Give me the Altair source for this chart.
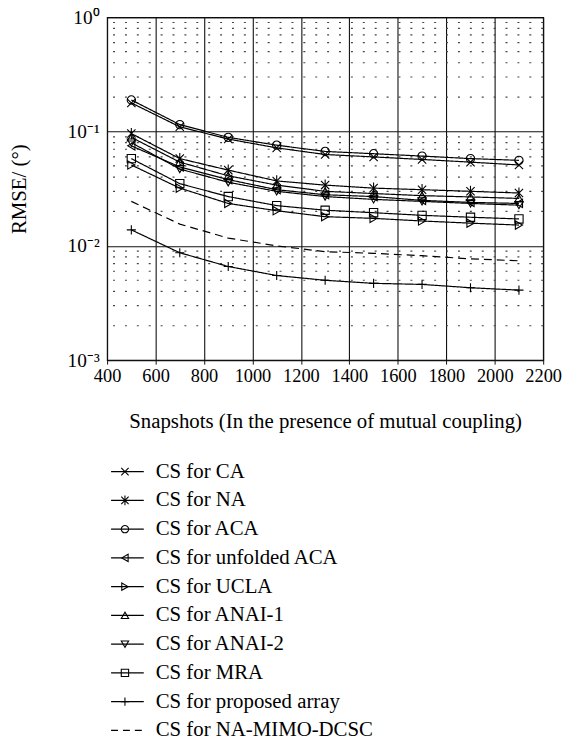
import altair as alt
import pandas as pd

# ---------------- data ----------------
snapshots = [500, 700, 900, 1100, 1300, 1500, 1700, 1900, 2100]

series_names = [
    "CS for CA", "CS for NA", "CS for ACA", "CS for unfolded ACA", "CS for UCLA",
    "CS for ANAI-1", "CS for ANAI-2", "CS for MRA", "CS for proposed array",
    "CS for NA-MIMO-DCSC",
]

rmse_ca = [0.178, 0.110, 0.086, 0.072, 0.063, 0.060, 0.057, 0.054, 0.051]
rmse_na = [0.096, 0.058, 0.046, 0.037, 0.034, 0.032, 0.031, 0.030, 0.029]
rmse_aca = [0.189, 0.115, 0.089, 0.076, 0.067, 0.064, 0.061, 0.058, 0.056]
rmse_unfolded = [0.075, 0.049, 0.038, 0.031, 0.028, 0.027, 0.025, 0.024, 0.0235]
rmse_ucla = [0.051, 0.032, 0.0235, 0.0203, 0.018, 0.0174, 0.0165, 0.0158, 0.0152]
rmse_anai1 = [0.089, 0.054, 0.041, 0.034, 0.030, 0.0287, 0.0275, 0.0268, 0.026]
rmse_anai2 = [0.080, 0.047, 0.036, 0.030, 0.027, 0.0255, 0.0245, 0.0235, 0.0227]
rmse_mra = [0.058, 0.035, 0.027, 0.0225, 0.0205, 0.0195, 0.0185, 0.0178, 0.0172]
rmse_proposed = [0.0138, 0.0087, 0.0066, 0.0055, 0.0050, 0.0047, 0.0046, 0.0043, 0.0041]
rmse_dcsc = [0.0245, 0.0155, 0.0117, 0.0100, 0.0089, 0.0086, 0.0082, 0.0077, 0.0074]

all_series = [rmse_ca, rmse_na, rmse_aca, rmse_unfolded, rmse_ucla,
              rmse_anai1, rmse_anai2, rmse_mra, rmse_proposed, rmse_dcsc]

x_ticks = [400, 600, 800, 1000, 1200, 1400, 1600, 1800, 2000, 2200]
y_decades = [0.001, 0.01, 0.1, 1]
y_decade_labels = ["10⁻³", "10⁻²", "10⁻¹", "10⁰"]
y_minor = [k * d for d in (0.001, 0.01, 0.1) for k in range(2, 10)]

x_title = "Snapshots (In the presence of mutual coupling)"
y_title = "RMSE/ (°)"

# ---------------- styling ----------------
FONT = "Liberation Serif"
X_PATH = "M-1,-1L1,1M-1,1L1,-1"
STAR_PATH = "M-1,-1L1,1M-1,1L1,-1M0,-1.35L0,1.35"
PLUS_PATH = "M-1.1,0L1.1,0M0,-1.1L0,1.1"
marker_shapes = [X_PATH, STAR_PATH, "circle", "triangle-left", "triangle-right",
                 "triangle-up", "triangle-down", "square", PLUS_PATH, "circle"]
dash_range = [[1, 0]] * 9 + [[8, 5]]

rows = []
for name, vals in zip(series_names, all_series):
    for s, v in zip(snapshots, vals):
        rows.append({"series": name, "snap": s, "rmse": v})
df = pd.DataFrame(rows)
marker_df = df[df["series"] != "CS for NA-MIMO-DCSC"]

label_expr = " : ".join(
    f"datum.value == {v} ? '{l}'" for v, l in zip(y_decades, y_decade_labels)
) + " : ''"

x_enc = alt.X("snap:Q",
              scale=alt.Scale(domain=[400, 2200], nice=False, zero=False),
              axis=alt.Axis(values=x_ticks, title=x_title, grid=True, format="d",
                            gridColor="#111", gridWidth=1.1, tickSize=4,
                            tickColor="#111", labelFontSize=18.5, titleFontSize=21,
                            labelPadding=3, titlePadding=25, domain=False,
                            labelFlush=False))
y_enc = alt.Y("rmse:Q",
              scale=alt.Scale(type="log", domain=[0.001, 1], nice=False),
              axis=alt.Axis(values=y_decades, labelExpr=label_expr, title=y_title,
                            grid=True, gridColor="#111", gridWidth=1.1, ticks=False,
                            labelFontSize=19.5, titleFontSize=21, labelPadding=8,
                            titlePadding=38, domain=False, labelFlush=False))

shape_scale = alt.Scale(domain=series_names, range=marker_shapes)
dash_scale = alt.Scale(domain=series_names, range=dash_range)

minor_df = pd.DataFrame({"rmse": y_minor})
minor = alt.Chart(minor_df).mark_rule(
    color="#444", strokeWidth=1.2, strokeDash=[2, 10]
).encode(y=y_enc)

lines = alt.Chart(df).mark_line(color="black", strokeWidth=1.2).encode(
    x=x_enc, y=y_enc, detail="series:N",
    strokeDash=alt.StrokeDash("series:N", scale=dash_scale, legend=None),
)

points = alt.Chart(marker_df).mark_point(
    color="black", filled=False, size=70, strokeWidth=1.1, opacity=1
).encode(
    x=x_enc, y=y_enc,
    shape=alt.Shape("series:N", scale=shape_scale, legend=None),
)

main = alt.layer(minor, lines, points).properties(
    width=440, height=346,
    view=alt.ViewBackground(stroke="black", strokeWidth=1.2),
)

# ---------------- legend (drawn as its own small chart) ----------------
legend_df = pd.DataFrame({"lname": series_names})
legend_marker_df = legend_df[legend_df["lname"] != "CS for NA-MIMO-DCSC"]
ly = alt.Y("lname:N", sort=series_names,
           scale=alt.Scale(type="point", padding=0.5, domain=series_names),
           axis=None)
lshape = alt.Scale(domain=series_names, range=marker_shapes)
ldash = alt.Scale(domain=series_names, range=[[1, 0]] * 9 + [[7, 5]])

leg_rule = alt.Chart(legend_df).mark_rule(color="black", strokeWidth=1.2).encode(
    y=ly, x=alt.value(4), x2=alt.value(37),
    strokeDash=alt.StrokeDash("lname:N", scale=ldash, legend=None),
)
leg_pts = alt.Chart(legend_marker_df).mark_point(
    color="black", filled=False, size=55, strokeWidth=1.1, opacity=1
).encode(
    y=ly, x=alt.value(18),
    shape=alt.Shape("lname:N", scale=lshape, legend=None),
)
leg_txt = alt.Chart(legend_df).mark_text(
    align="left", baseline="middle", font=FONT, fontSize=21, color="black"
).encode(y=ly, x=alt.value(49), text="lname:N")

legend = alt.layer(leg_rule, leg_pts, leg_txt).properties(
    width=440, height=290,
    view=alt.ViewBackground(stroke="transparent"),
)

chart = alt.vconcat(main, legend, spacing=24).resolve_scale(
    x="independent", y="independent", shape="independent", strokeDash="independent"
).properties(
    padding={"left": 0, "top": -5, "right": 0, "bottom": 0}
).configure_axis(
    labelFont=FONT, titleFont=FONT, labelColor="black", titleColor="black",
    titleFontWeight="normal",
).configure_view(stroke="black")

chart.save("out.html", embed_options={"renderer": "svg", "actions": False})
